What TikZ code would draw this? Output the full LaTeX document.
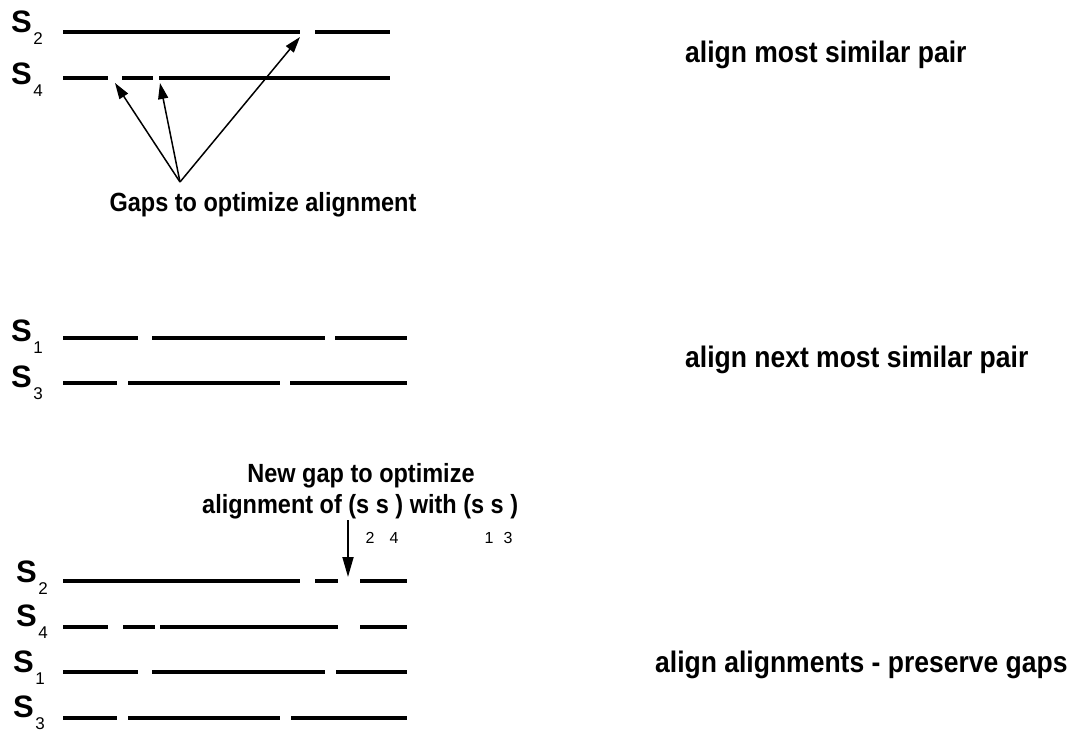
\documentclass[tikz,border=0pt]{standalone}
\usepackage{fontspec}
\setmainfont{Liberation Sans}
\usetikzlibrary{arrows.meta}
\tikzset{
  seg/.style={line width=4pt, line cap=butt},
  ptr/.style={line width=1.5pt, -{Triangle[length=16pt,width=10pt]}},
  ptrb/.style={line width=1.8pt, -{Triangle[length=20pt,width=11pt]}},
  slabel/.style={anchor=base west, inner sep=0pt, font=\fontsize{31}{31}\selectfont\bfseries},
  note/.style={inner sep=0pt, font=\fontsize{23.5}{26}\selectfont\bfseries},
  side/.style={anchor=base west, inner sep=0pt, font=\fontsize{26.5}{28}\selectfont\bfseries},
  subnum/.style={anchor=base, inner sep=0pt, font=\fontsize{16}{16}\selectfont}
}
\newcommand{\seqlab}[1]{S\hspace{1.5pt}\raisebox{-12pt}{\fontsize{17}{17}\selectfont\mdseries #1}}
\newcommand{\tall}[1]{\scalebox{1}[1.12]{#1}}
\begin{document}
\begin{tikzpicture}[x=1pt,y=-1pt]
\useasboundingbox (0,0) rectangle (1074,735);

% ---------- top: S2 / S4 ----------
\node[slabel] (a2) at (11,33) {\seqlab{2}};
\node[slabel] (a4) at (11,85) {\seqlab{4}};
\foreach \a/\b in {63/300,315/390} \draw[seg] (\a,32) -- (\b,32);
\foreach \a/\b in {63/108,122/153,159/390} \draw[seg] (\a,78) -- (\b,78);

\node[note, anchor=base] (gaps) at (263,212) {\tall{Gaps to optimize alignment}};
\coordinate (gsrc) at (180,182);
\coordinate (g1) at (115,83);
\coordinate (g2) at (160,83);
\coordinate (g3) at (300,37);
\draw[ptr] (gsrc) -- (g1);
\draw[ptr] (gsrc) -- (g2);
\draw[ptr] (gsrc) -- (g3);

\node[side] (t1) at (685,63) {\tall{align most similar pair}};

% ---------- middle: S1 / S3 ----------
\node[slabel] (b1) at (11,342) {\seqlab{1}};
\node[slabel] (b3) at (11,388) {\seqlab{3}};
\foreach \a/\b in {63/138,152/325,335/407} \draw[seg] (\a,338) -- (\b,338);
\foreach \a/\b in {63/117,128/280,290/407} \draw[seg] (\a,383) -- (\b,383);

\node[side] (t2) at (685,367) {\tall{align next most similar pair}};

% ---------- bottom: all four ----------
\node[note, anchor=base] (ng1) at (361,482) {\tall{New gap to optimize}};
\node[note, anchor=base west] (ng2) at (202,513) {\tall{alignment of (s s ) with (s s )}};
\node[subnum] (n2) at (370,543) {2};
\node[subnum] (n4) at (394,543) {4};
\node[subnum] (n1) at (489,543) {1};
\node[subnum] (n3) at (508,543) {3};
\coordinate (nsrc) at (348,520);
\coordinate (ntgt) at (348,577);
\draw[ptrb] (nsrc) -- (ntgt);

\node[slabel] (c2) at (16,582) {\seqlab{2}};
\node[slabel] (c4) at (16,626) {\seqlab{4}};
\node[slabel] (c1) at (13,672) {\seqlab{1}};
\node[slabel] (c3) at (13,717) {\seqlab{3}};
\foreach \a/\b in {63/300,315/338,360/407} \draw[seg] (\a,581) -- (\b,581);
\foreach \a/\b in {63/108,123/155,160/338,360/407} \draw[seg] (\a,627) -- (\b,627);
\foreach \a/\b in {63/138,152/325,336/407} \draw[seg] (\a,672) -- (\b,672);
\foreach \a/\b in {63/117,128/280,291/407} \draw[seg] (\a,718) -- (\b,718);

\node[side] (t3) at (655,672) {\tall{align alignments - preserve gaps}};
\end{tikzpicture}
\end{document}
